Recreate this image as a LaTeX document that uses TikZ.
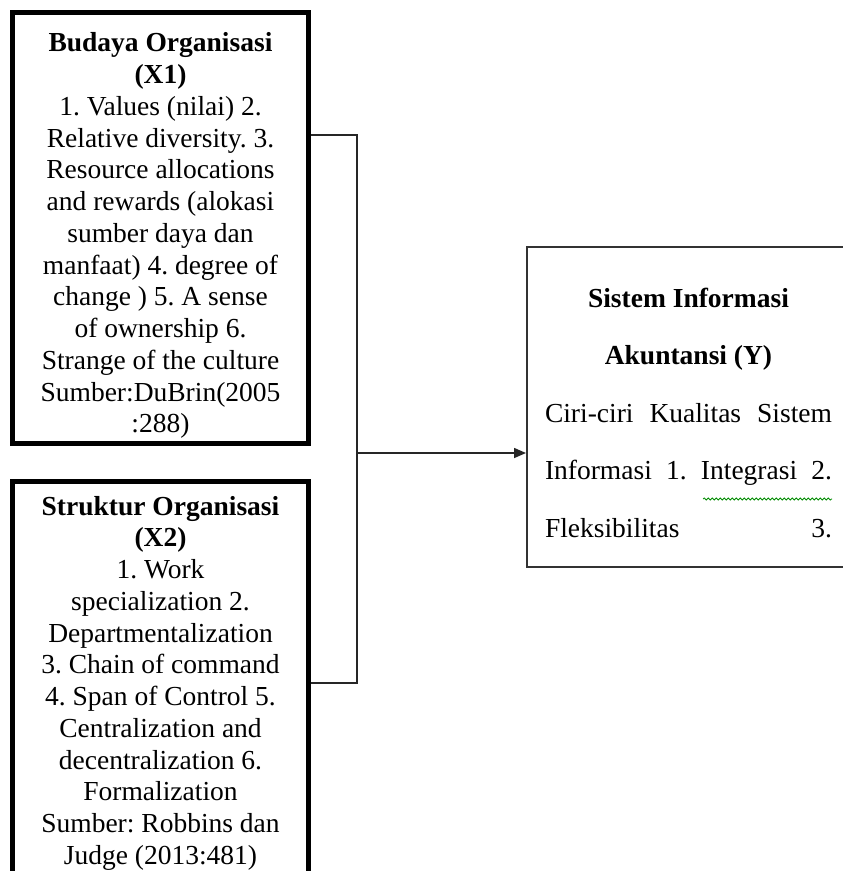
\documentclass[tikz,border=0pt]{standalone}
\usepackage{fontspec}
\setmainfont{Liberation Serif}
\usetikzlibrary{arrows.meta,decorations.pathmorphing}
\frenchspacing

\tikzset{
  varbox/.style={draw, line width=5pt, inner sep=0pt},
  vartext/.style={align=center, inner sep=0pt,
    font=\fontsize{27.5}{31.75}\selectfont},
  ybox/.style={draw=black!80, line width=2pt, inner sep=0pt},
  ytext/.style={align=center, inner sep=0pt,
    font=\fontsize{27.5}{57.5}\selectfont},
  link/.style={draw=black!85, line width=1.5pt},
}

\begin{document}
\begin{tikzpicture}[x=1pt,y=-1pt]
\useasboundingbox (0,0) rectangle (843,871);
\clip (0,0) rectangle (843,871);
\fill[white] (0,0) rectangle (843,871);

% variabel X1 dan X2
\node[varbox, minimum width=296pt, minimum height=430.5pt] (x1) at (160.5,227.75) {};
\node[vartext] (x1lbl) at ([yshift=-8pt]x1.center)
  {\textbf{Budaya Organisasi}\\ \textbf{(X1)}\\ 1. Values (nilai) 2.\\ Relative diversity. 3.\\
   Resource allocations\\ and rewards (alokasi\\ sumber daya dan\\ manfaat) 4. degree of\\
   change ) 5. A sense\\ of ownership 6.\\ Strange of the culture\\ Sumber:DuBrin(2005\\ :288)};
\node[varbox, minimum width=296pt, minimum height=391.5pt] (x2) at (160.5,677.25) {};
\node[vartext] (x2lbl) at ([yshift=-6pt]x2.center)
  {\textbf{Struktur Organisasi}\\ \textbf{(X2)}\\ 1. Work\\ specialization 2.\\ Departmentalization\\
   3. Chain of command\\ 4. Span of Control 5.\\ Centralization and\\ decentralization 6.\\
   Formalization\\ Sumber: Robbins dan\\ Judge (2013:481)};

% variabel Y
\node[ybox, minimum width=323pt, minimum height=320pt] (y) at (688.5,407) {};
\node[ytext] (ylbl) at ([yshift=-6pt]y.center)
  {\textbf{Sistem Informasi}\\ \textbf{Akuntansi (Y)}\\
   \makebox[287pt]{Ciri-ciri\hfill Kualitas\hfill Sistem}\\
   \makebox[287pt]{Informasi\hfill 1.\hfill Integrasi\hfill 2.}\\
   \makebox[287pt]{Fleksibilitas\hfill 3.}};
\draw[green!55!black, line width=0.8pt, decorate,
  decoration={snake, segment length=4pt, amplitude=1pt}] (703,499) -- (832,499);

% garis penghubung
\coordinate (top) at (357,135);
\coordinate (bot) at (357,683);
\coordinate (mid) at (357,453);
\draw[link] (top -| x1.east) -- (top) -- (bot) -- (bot -| x2.east);
\draw[link, -{Triangle[length=12pt,width=10pt]}] (mid) -- (mid -| y.west);
\end{tikzpicture}
\end{document}
